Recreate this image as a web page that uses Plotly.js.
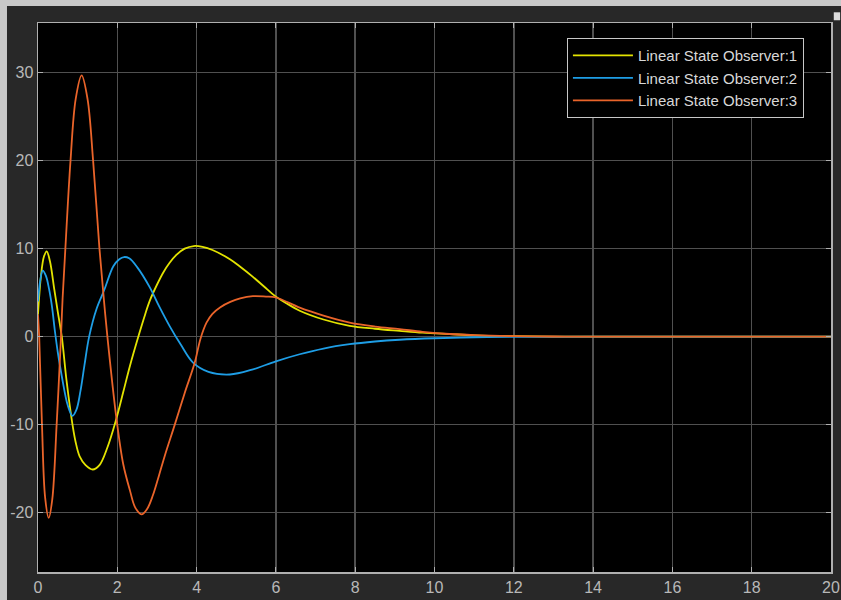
<!DOCTYPE html>
<html>
<head>
<meta charset="utf-8">
<script src="https://cdn.plot.ly/plotly-3.0.1.min.js"></script>
<style>
html,body{margin:0;padding:0;background:#282828;}
#chart{width:841px;height:600px;}
</style>
</head>
<body>
<div id="chart"></div>
<script>
// Series names
const seriesNames = ["Linear State Observer:1", "Linear State Observer:2", "Linear State Observer:3"];

// Series 1 (yellow)
const time1 = [0, 0.076, 0.15, 0.22, 0.3, 0.41, 0.5, 0.6, 0.72, 0.87, 0.95, 1.05, 1.2, 1.38, 1.55, 1.75, 1.96, 2.15, 2.32, 2.55, 2.7, 2.82, 3.0, 3.16, 3.32, 3.49, 3.7, 3.93, 4.15, 4.4, 4.84, 5.1, 5.42, 5.7, 6.0, 6.3, 6.6, 7.2, 7.86, 8.5, 9.12, 9.7, 10.38, 11, 12, 13, 14, 20];
const obs1  = [2.5, 6.95, 9.1, 9.7, 8.6, 5.4, 2.8, 0, -5, -10, -12, -13.6, -14.6, -15.1, -14.6, -12.6, -9.6, -6.3, -3.3, 0.3, 2.5, 4.1, 5.9, 7.3, 8.4, 9.3, 10.0, 10.3, 10.2, 9.85, 8.8, 7.95, 6.8, 5.7, 4.55, 3.7, 2.95, 1.95, 1.23, 0.9, 0.66, 0.45, 0.29, 0.15, 0.05, 0.01, 0, 0];

// Series 2 (blue)
const time2 = [0, 0.06, 0.12, 0.2, 0.28, 0.35, 0.43, 0.5, 0.6, 0.75, 0.87, 0.97, 1.07, 1.17, 1.29, 1.48, 1.67, 1.9, 2.05, 2.17, 2.3, 2.5, 2.82, 3.05, 3.32, 3.6, 3.91, 4.3, 4.84, 5.4, 6.0, 6.6, 7.2, 7.86, 8.5, 9.12, 10, 11, 12, 14, 20];
const obs2  = [4.0, 6.5, 7.5, 6.9, 5.4, 3.5, 0.5, -1.8, -4.5, -7.8, -9.0, -8.3, -6.2, -3.3, 0, 3.2, 5.3, 8.0, 8.8, 9.05, 8.9, 7.9, 5.6, 3.5, 1.2, -0.9, -2.95, -4.0, -4.3, -3.75, -2.8, -2.0, -1.35, -0.86, -0.55, -0.35, -0.18, -0.07, -0.02, 0, 0];

// Series 3 (orange)
const time3 = [0, 0.03, 0.1, 0.18, 0.27, 0.36, 0.47, 0.58, 0.62, 0.69, 0.82, 0.95, 1.1, 1.25, 1.39, 1.55, 1.66, 1.75, 1.97, 2.15, 2.32, 2.45, 2.61, 2.75, 2.9, 3.05, 3.2, 3.45, 3.7, 3.95, 4.1, 4.25, 4.4, 4.6, 4.85, 5.1, 5.42, 5.75, 6.0, 6.6, 7.2, 7.86, 8.5, 9.12, 9.7, 10.38, 11, 12, 13, 14, 20];
const obs3  = [2.5, 0, -10, -18.3, -20.6, -18.5, -10, 0, 4.3, 10, 20, 27, 29.7, 27, 20, 10, 4.3, 0, -9, -14.5, -17.5, -19.4, -20.2, -19.6, -18.0, -15.8, -13.5, -10, -6.4, -3, -0.2, 1.6, 2.6, 3.35, 3.95, 4.35, 4.6, 4.55, 4.45, 3.3, 2.4, 1.6, 1.15, 0.86, 0.55, 0.3, 0.17, 0.06, 0.02, 0, 0];

const xTicks = [0, 2, 4, 6, 8, 10, 12, 14, 16, 18, 20];
const yTicks = [-20, -10, 0, 10, 20, 30];

const colors = ["#e3e300", "#1e9ee6", "#ea642a"];
const times = [time1, time2, time3];
const vals = [obs1, obs2, obs3];

const traces = seriesNames.map((n, i) => ({
  x: times[i], y: vals[i], name: n, type: "scatter", mode: "lines",
  line: {color: colors[i], width: 1.8, shape: "spline", smoothing: 1}
}));

const axisCommon = {
  showline: true, linecolor: "#b0b0b0", linewidth: 1.5, mirror: "ticks",
  showgrid: true, gridcolor: "#505050", gridwidth: 1.5,
  zeroline: false, ticks: "inside", ticklen: 5, tickcolor: "#b0b0b0", tickwidth: 1,
  tickfont: {family: "Arial, 'Liberation Sans', sans-serif", size: 16, color: "#b8b8b8"}
};

const layout = {
  width: 841, height: 600,
  margin: {l: 38, r: 10, t: 23, b: 28, pad: 0},
  paper_bgcolor: "#282828", plot_bgcolor: "#000000",
  showlegend: true,
  xaxis: Object.assign({}, axisCommon, {range: [0, 20], tickvals: xTicks, ticktext: xTicks.map(String)}),
  yaxis: Object.assign({}, axisCommon, {range: [-26.75, 35.65], tickvals: yTicks, ticktext: yTicks.map(String)}),
  legend: {
    x: 0.667, y: 0.9726, xanchor: "left", yanchor: "top",
    bgcolor: "#000000", bordercolor: "#c8c8c8", borderwidth: 1,
    font: {family: "Arial, 'Liberation Sans', sans-serif", size: 15, color: "#d8d8d8"},
    itemwidth: 60, tracegroupgap: 0
  },
  shapes: [
    {type: "rect", xref: "paper", yref: "paper", x0: -0.06, x1: 1.02, y0: 1.031, y1: 1.06, fillcolor: "#c8c8c8", line: {width: 0}, layer: "above"},
    {type: "rect", xref: "paper", yref: "paper", x0: -0.06, x1: -0.0391, y0: -0.06, y1: 1.06, fillcolor: "#c8c8c8", line: {width: 0}, layer: "above"},
    {type: "rect", xref: "paper", yref: "paper", x0: 1.0035, x1: 1.0115, y0: 1.005, y1: 1.0195, fillcolor: "#dcdcdc", line: {width: 0}, layer: "above"}
  ]
};

Plotly.newPlot("chart", traces, layout, {displayModeBar: false, staticPlot: true});
</script>
</body>
</html>
